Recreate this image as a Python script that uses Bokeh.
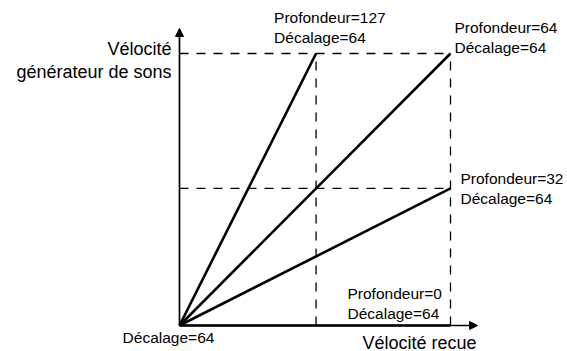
from bokeh.plotting import figure
from bokeh.models import Range1d, Arrow, NormalHead
from bokeh.core.properties import value
from bokeh.embed import file_html
from bokeh.resources import INLINE

# ---- data ----
depths = ["Profondeur=127", "Profondeur=64", "Profondeur=32", "Profondeur=0"]
offsets = ["Décalage=64", "Décalage=64", "Décalage=64", "Décalage=64"]
end_in = [64, 127, 127, 127]      # received velocity at line end
end_out = [127, 127, 64, 0]       # tone generator velocity at line end
origin_label = "Décalage=64"
x_title = "Vélocité recue"
y_title = ["Vélocité", "générateur de sons"]
vmax = 127
mid = 64

# ---- layout ----
FONT = "Liberation Sans"
W, H = 567, 351
ox, oy = 179, 325          # origin position inside the canvas (px)
sx = 271 / 127
sy = 272 / 127
x0 = -ox / sx
y1 = oy / sy
p = figure(width=W, height=H, output_backend="svg", toolbar_location=None,
           x_range=Range1d(x0, x0 + W / sx), y_range=Range1d(y1 - H / sy, y1),
           min_border=0, outline_line_color=None)
p.axis.visible = False
p.grid.visible = False

# dashed guides
dash = "9 8"
p.line([0, vmax], [vmax, vmax], line_color="black", line_width=1.3, line_dash=dash)
p.line([0, vmax], [mid, mid], line_color="black", line_width=1.3, line_dash=dash)
p.line([mid, mid], [0, vmax], line_color="black", line_width=1.3, line_dash=dash)
p.line([vmax, vmax], [0, vmax], line_color="black", line_width=1.3, line_dash=dash)

# axes with arrows
p.add_layout(Arrow(x_start=0, y_start=0, x_end=0, y_end=vmax * 1.092, line_width=1.7,
                   end=NormalHead(size=8, fill_color="black", line_color="black", line_width=1)))
p.add_layout(Arrow(x_start=0, y_start=0, x_end=vmax * 1.1, y_end=0, line_width=1.7,
                   end=NormalHead(size=8, fill_color="black", line_color="black", line_width=1)))

# velocity curves
for xi, yi in zip(end_in, end_out):
    p.line([0, xi], [0, yi], line_color="black", line_width=2.6)

# annotations
lab_off = [(-42, -36), (4, -26), (10, -10), (-103, -32)]
gap = 20
for i in range(len(depths)):
    dx, dy = lab_off[i]
    for txt, ddy in ((depths[i], dy), (offsets[i], dy + gap)):
        p.text([end_in[i]], [end_out[i]], text=[txt], x_offset=dx, y_offset=ddy,
               text_font=value(FONT), text_font_size="15.5px", text_align="left",
               text_baseline="middle", text_color="black")

p.text([0], [0], text=[origin_label], x_offset=-11, y_offset=12,
       text_font=value(FONT), text_font_size="15.5px", text_align="center",
       text_baseline="middle", text_color="black")

p.text([vmax], [0], text=[x_title], x_offset=-88, y_offset=17,
       text_font=value(FONT), text_font_size="18px", text_align="left",
       text_baseline="middle", text_color="black")
for j, t in enumerate(y_title):
    p.text([0], [vmax], text=[t], x_offset=-8, y_offset=-5 + 23 * j,
           text_font=value(FONT), text_font_size="18px", text_align="right",
           text_baseline="middle", text_color="black")

open("out.html", "w").write(file_html(p, INLINE))
